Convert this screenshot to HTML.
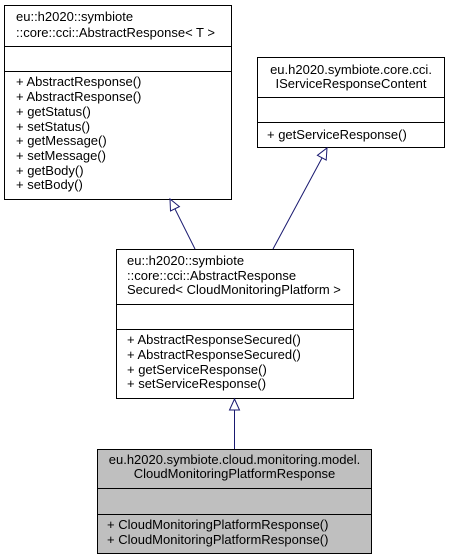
<!DOCTYPE html>
<html><head><meta charset="utf-8"><style>
html,body{margin:0;padding:0;background:#fff;width:449px;height:560px;overflow:hidden}
svg{display:block}
text{font-family:"Liberation Sans",sans-serif;font-size:13px;fill:#000}
</style></head><body>
<svg width="449" height="560" viewBox="0 0 449 560" xmlns="http://www.w3.org/2000/svg">
<g fill="none" stroke="#000" stroke-width="1">
<rect x="4.5" y="5.5" width="227" height="194" fill="#fff"/>
<line x1="4.5" y1="46.5" x2="231.5" y2="46.5"/>
<line x1="4.5" y1="71.5" x2="231.5" y2="71.5"/>
<rect x="257.5" y="57.5" width="187" height="90" fill="#fff"/>
<line x1="257.5" y1="97.5" x2="444.5" y2="97.5"/>
<line x1="257.5" y1="122.5" x2="444.5" y2="122.5"/>
<rect x="116.5" y="249.5" width="237" height="149" fill="#fff"/>
<line x1="116.5" y1="304.5" x2="353.5" y2="304.5"/>
<line x1="116.5" y1="329.5" x2="353.5" y2="329.5"/>
<rect x="97.5" y="449.5" width="274" height="104" fill="#bfbfbf"/>
<line x1="97.5" y1="488.5" x2="371.5" y2="488.5"/>
<line x1="97.5" y1="514.5" x2="371.5" y2="514.5"/>
</g>
<g stroke="#191970" stroke-width="1" fill="#fff">
<line x1="175" y1="209" x2="195" y2="249"/>
<polygon points="170,199 170.5,211 179.4,206.6"/>
<line x1="322" y1="158" x2="273" y2="249"/>
<polygon points="327,148 326.2,160.1 317.4,155.3"/>
<line x1="234.5" y1="410" x2="234.5" y2="449"/>
<polygon points="234.5,399 229.5,410 239.5,410"/>
</g>
<text x="16" y="21">eu::h2020::symbiote</text>
<text x="16" y="37">::core::cci::AbstractResponse&lt; T &gt;</text>
<text x="16" y="86">+ AbstractResponse()</text>
<text x="16" y="101">+ AbstractResponse()</text>
<text x="16" y="116">+ getStatus()</text>
<text x="16" y="131">+ setStatus()</text>
<text x="16" y="145">+ getMessage()</text>
<text x="16" y="160">+ setMessage()</text>
<text x="16" y="175">+ getBody()</text>
<text x="16" y="189">+ setBody()</text>
<text x="351" y="74" text-anchor="middle">eu.h2020.symbiote.core.cci.</text>
<text x="351" y="88" text-anchor="middle">IServiceResponseContent</text>
<text x="267" y="139">+ getServiceResponse()</text>
<text x="127" y="265">eu::h2020::symbiote</text>
<text x="127" y="280">::core::cci::AbstractResponse</text>
<text x="127" y="294">Secured&lt; CloudMonitoringPlatform &gt;</text>
<text x="127" y="344">+ AbstractResponseSecured()</text>
<text x="127" y="359">+ AbstractResponseSecured()</text>
<text x="127" y="374">+ getServiceResponse()</text>
<text x="127" y="388">+ setServiceResponse()</text>
<text x="234.5" y="464" text-anchor="middle">eu.h2020.symbiote.cloud.monitoring.model.</text>
<text x="234.5" y="478" text-anchor="middle">CloudMonitoringPlatformResponse</text>
<text x="107" y="529">+ CloudMonitoringPlatformResponse()</text>
<text x="107" y="544">+ CloudMonitoringPlatformResponse()</text>
</svg>
</body></html>
